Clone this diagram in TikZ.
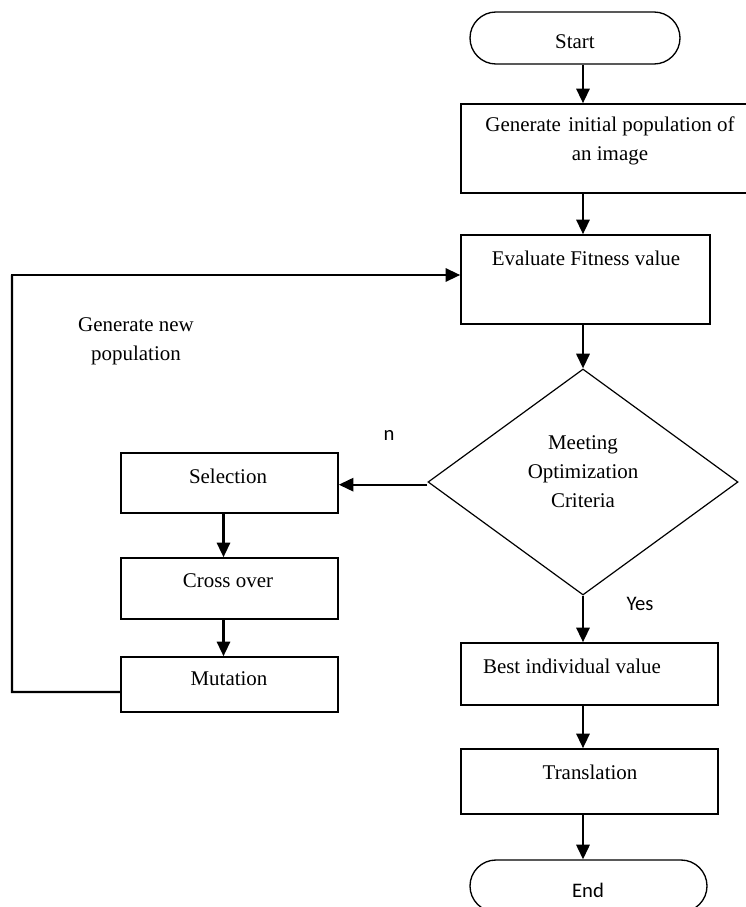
\documentclass[tikz,border=0pt]{standalone}
\usepackage{fontspec}
\setmainfont{Liberation Serif}
\newfontfamily\lblfont{Carlito}
\usetikzlibrary{shapes.geometric,arrows.meta}
\begin{document}
\begin{tikzpicture}[x=0.75pt,y=-0.75pt,
  boxshape/.style={draw, line width=1.2pt, rectangle, inner sep=0pt},
  termshape/.style={draw, line width=1pt, rectangle, inner sep=0pt, rounded corners=19.5pt},
  txt/.style={font=\fontsize{15.7}{21.75}\selectfont, align=center, inner sep=0pt},
  sanslbl/.style={font=\lblfont\fontsize{15.5}{18}\selectfont, inner sep=0pt},
  arr/.style={line width=1.7pt, -{Triangle[length=11pt,width=10pt]}},
  loopline/.style={line width=1.7pt}
]
\clip (0,0) rectangle (746,907);
\fill[white] (0,0) rectangle (746,907);

% shapes
\node[termshape, minimum width=157.5pt, minimum height=39pt] (start) at (575,38) {};
\node[boxshape, minimum width=223.5pt, minimum height=66.75pt] (b1) at (610,148.5) {};
\node[boxshape, minimum width=186.75pt, minimum height=66.75pt] (b2) at (585.5,279.5) {};
\node[draw, diamond, line width=0.9pt, inner sep=0pt, minimum width=232.5pt, minimum height=169.5pt] (dia) at (583,482) {};
\node[boxshape, minimum width=162.75pt, minimum height=45pt] (sel) at (229.5,483) {};
\node[boxshape, minimum width=162.75pt, minimum height=45.75pt] (cross) at (229.5,588.5) {};
\node[boxshape, minimum width=162.75pt, minimum height=41.25pt] (mut) at (229.5,684.5) {};
\node[boxshape, minimum width=192.75pt, minimum height=46.5pt] (best) at (589.5,674) {};
\node[boxshape, minimum width=192.75pt, minimum height=48.75pt] (trans) at (589.5,781.5) {};
\node[termshape, minimum width=177.75pt, minimum height=39pt] (end) at (588.5,886) {};

% texts
\node[txt] (tstart) at (575,42) {Start};
\node[txt] (tb1) at (610,141) {Generate\hspace{0.35em}initial population of\\an image};
\node[txt] (tb2) at (586,258) {Evaluate Fitness value};
\node[txt] (tdia) at (583,472) {Meeting\\Optimization\\Criteria};
\node[txt] (tsel) at (228,476) {Selection};
\node[txt] (tcross) at (228,581) {Cross over};
\node[txt] (tmut) at (229,679) {Mutation};
\node[txt] (tbest) at (572,666) {Best individual value};
\node[txt] (ttrans) at (590,772) {Translation};
\node[sanslbl] (tend) at (588,890) {End};
\node[sanslbl] (tyes) at (640,604) {Yes};
\node[sanslbl] (tn) at (389,435) {n};
\node[txt] (tgen) at (136,341) {Generate new\\population};

% connectors
\draw[arr] (start.south -| dia.north) -- (b1.north -| dia.north);
\draw[arr] (b1.south -| dia.north) -- (b2.north -| dia.north);
\draw[arr] (b2.south -| dia.north) -- (dia.north);
\draw[arr] ([yshift=-2pt]dia.west) -- ([yshift=-2pt]dia.west -| sel.east);
\draw[arr] ([xshift=-4.5pt]sel.south) -- ([xshift=-4.5pt]cross.north);
\draw[arr] ([xshift=-4.5pt]cross.south) -- ([xshift=-4.5pt]mut.north);
\draw[arr] (dia.south) -- (best.north -| dia.south);
\draw[arr] (best.south -| dia.south) -- (trans.north -| dia.south);
\draw[arr] (trans.south -| dia.south) -- (end.north -| dia.south);
\coordinate (lb) at (12,692);
\coordinate (lt) at (12,275);
\draw[loopline] ([yshift=-5.6pt]mut.west) -- (lb) -- (lt);
\draw[arr] ([xshift=-0.85pt]lt) -- (lt -| b2.west);
\end{tikzpicture}
\end{document}
